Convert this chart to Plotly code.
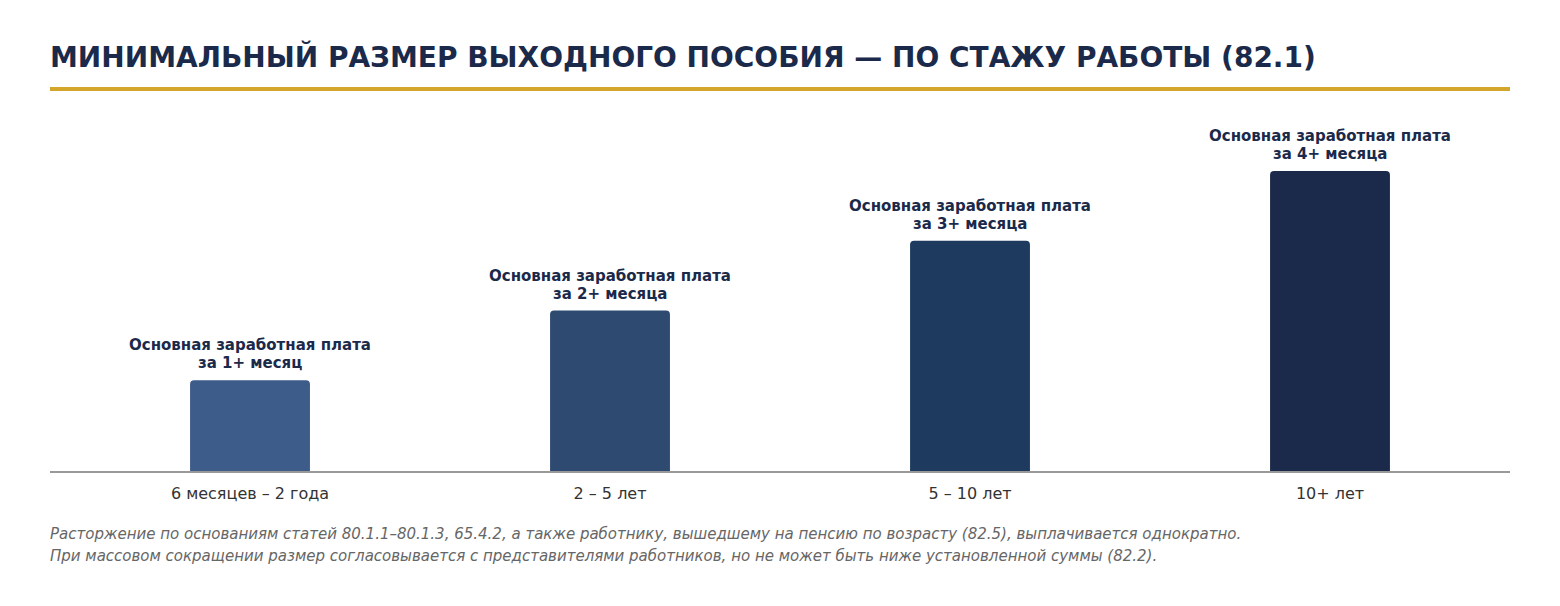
import plotly.graph_objects as go

# Стаж работы -> минимальный размер выходного пособия
categories = ["6 месяцев – 2 года", "2 – 5 лет", "5 – 10 лет", "10+ лет"]
bar_values = [1.3, 2.3, 3.3, 4.3]
label_line1 = ["Основная заработная плата"] * 4
label_line2 = ["за 1+ месяц", "за 2+ месяца", "за 3+ месяца", "за 4+ месяца"]
bar_colors = ["#3e5c89", "#2e4a70", "#1f3a5f", "#1b2a4a"]

title_text = "МИНИМАЛЬНЫЙ РАЗМЕР ВЫХОДНОГО ПОСОБИЯ — ПО СТАЖУ РАБОТЫ (82.1)"
notes = [
    "Расторжение по основаниям статей 80.1.1–80.1.3, 65.4.2, а также работнику, "
    "вышедшему на пенсию по возрасту (82.5), выплачивается однократно.",
    "При массовом сокращении размер согласовывается с представителями работников, "
    "но не может быть ниже установленной суммы (82.2).",
]

NAVY = "#1b2a4a"
FONT = "DejaVu Sans"

# страница сдвигает рисунок на 8px, поэтому поля уменьшены на 8px
W, H = 1544, 590
ML, MR, MT, MB = 42, 42, 103, 127
plot_h = H - MT - MB


def py(px):
    # пиксель окна -> paper-координата
    return (H - MB + 8 - px) / plot_h


def px_x(px):
    return (px - 8 - ML) / (W - ML - MR)


fig = go.Figure()
fig.add_trace(go.Bar(
    x=list(range(len(categories))), y=bar_values,
    width=0.333,
    marker=dict(color=bar_colors, cornerradius=4, line=dict(width=0)),
    hoverinfo="skip",
))

for i, v in enumerate(bar_values):
    for text, shift in ((label_line2[i], 17), (label_line1[i], 35)):
        fig.add_annotation(
            x=i, y=v, text=f"<b>{text}</b>", showarrow=False,
            xanchor="center", yanchor="middle", yshift=shift,
            font=dict(family=FONT, size=15, color=NAVY),
        )

# заголовок и золотая линия
fig.add_annotation(
    x=px_x(48), y=py(57), xref="paper", yref="paper", text=f"<b>{title_text}</b>",
    showarrow=False, xanchor="left", yanchor="middle",
    font=dict(family=FONT, size=28, color=NAVY),
)
fig.add_shape(type="line", xref="paper", yref="paper", x0=0, x1=1,
              y0=py(89), y1=py(89), line=dict(color="#d4a52b", width=4))

for note, y in zip(notes, (534, 556)):
    fig.add_annotation(
        x=px_x(48), y=py(y), xref="paper", yref="paper", text=f"<i>{note}</i>",
        showarrow=False, xanchor="left", yanchor="middle",
        font=dict(family=FONT, size=15, color="#666666"),
    )

fig.update_layout(
    width=W, height=H,
    margin=dict(l=ML, r=MR, t=MT, b=MB),
    plot_bgcolor="white", paper_bgcolor="white",
    showlegend=False,
    font=dict(family=FONT),
    xaxis=dict(
        range=[-0.5556, 3.5], tickmode="array",
        tickvals=list(range(len(categories))), ticktext=categories,
        showgrid=False, zeroline=False, showline=True,
        linecolor="#999999", linewidth=2, ticks="",
        ticklabelstandoff=7,
        tickfont=dict(family=FONT, size=16, color="#333333"),
        fixedrange=True,
    ),
    yaxis=dict(range=[0, 5.16], visible=False, fixedrange=True),
)

fig.write_html("out.html")
